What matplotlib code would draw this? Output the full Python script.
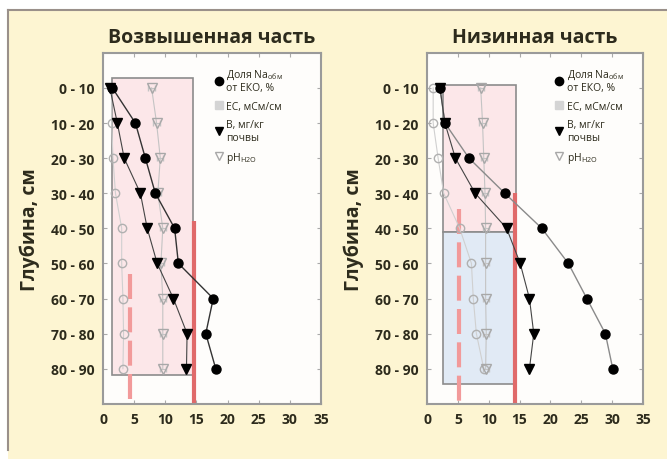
import matplotlib.pyplot as plt
from matplotlib.lines import Line2D
from matplotlib.patches import Rectangle
import numpy as np

plt.rcParams['font.family'] = ['Open Sans', 'DejaVu Sans']
plt.rcParams['mathtext.default'] = 'regular'

depths = ['0 - 10', '10 - 20', '20 - 30', '30 - 40', '40 - 50',
          '50 - 60', '60 - 70', '70 - 80', '80 - 90']

# Возвышенная часть
na_up = [1.5, 5.2, 6.8, 8.4, 11.5, 12.1, 17.7, 16.5, 18.1]
b_up = [1.1, 2.3, 3.4, 6.0, 7.1, 8.7, 11.3, 13.5, 13.4]
ec_up = [1.4, 1.4, 1.6, 2.0, 3.0, 3.0, 3.2, 3.3, 3.2]
ph_up = [7.8, 8.6, 9.2, 8.8, 9.6, 9.3, 9.6, 9.6, 9.6]

# Низинная часть
na_low = [2.1, 2.9, 6.8, 12.6, 18.6, 22.9, 25.9, 28.9, 30.1]
b_low = [2.1, 2.9, 4.6, 7.8, 12.9, 15.1, 16.6, 17.3, 16.6]
ec_low = [1.0, 1.0, 1.8, 2.7, 5.3, 7.2, 7.5, 8.0, 9.2]
ph_low = [8.7, 9.0, 9.2, 9.4, 9.5, 9.5, 9.5, 9.6, 9.5]

txt = '#2d2b1c'
bg = '#fdf5d2'

fig = plt.figure(figsize=(6.67, 4.6), dpi=100, facecolor='white')
fig.patches.append(Rectangle((8 / 667, 0), 1, 1 - 11 / 460, transform=fig.transFigure,
                             facecolor=bg, edgecolor='none', zorder=-10))
fig.add_artist(Line2D([8 / 667, 8 / 667], [0.02, 1 - 11 / 460], color='#9a908a', lw=1.5))
fig.add_artist(Line2D([8 / 667, 1], [1 - 11 / 460, 1 - 11 / 460], color='#9a908a', lw=1.5))

ax1 = fig.add_axes([103 / 667, 0.120, 218 / 667, 0.763])
ax2 = fig.add_axes([427 / 667, 0.120, 216 / 667, 0.763])
y = np.arange(len(depths))


def panel(ax, title, na, b, ec, ph, na_col, legx):
    ax.set_facecolor('#fefdfb')
    ax.plot(ec, y, '-', color='#d0d0d0', lw=0.8, zorder=3)
    ax.plot(ec, y, 'o', mfc='none', mec='#b0b0b0', ms=6, mew=1, zorder=4)
    ax.errorbar(ph, y, xerr=0.5, fmt='-', color='#c4c4c4', lw=0.8, capsize=2, zorder=3)
    ax.plot(ph, y, 'v', mfc='none', mec='#a8a8a8', ms=7, mew=1, zorder=4)
    ax.plot(na, y, '-', color=na_col, lw=1.0, zorder=5)
    ax.plot(na, y, 'o', color='black', ms=6.5, zorder=6)
    ax.plot(b, y, '-', color='#444444', lw=0.8, zorder=5)
    ax.plot(b, y, 'v', color='black', ms=6.5, zorder=6)

    ax.set_xlim(0, 35)
    ax.set_ylim(9, -1)
    ax.set_xticks(range(0, 36, 5))
    ax.set_yticks(y)
    ax.set_yticklabels(depths)
    ax.tick_params(direction='in', top=True, right=True, length=3, color='#aaaaaa',
                   labelsize=10, labelcolor=txt, pad=6)
    for lab in ax.get_xticklabels() + ax.get_yticklabels():
        lab.set_fontweight('bold')
    for s in ax.spines.values():
        s.set_color('#9a9a9a')
        s.set_linewidth(1.5)
    ax.set_title(title, fontsize=14, fontweight='bold', color=txt, pad=8)
    ax.set_ylabel('Глубина, см', fontsize=14, fontweight='bold', color=txt, labelpad=8)

    handles = [
        Line2D([], [], marker='o', color='black', ls='none', ms=6),
        Line2D([], [], marker='s', color='#d4d4d4', ls='none', ms=6),
        Line2D([], [], marker='v', color='black', ls='none', ms=6),
        Line2D([], [], marker='v', mfc='none', mec='#a8a8a8', ls='none', ms=6),
    ]
    labels = ['Доля Na$_{обм}$\nот ЕКО, %', 'EC, мСм/см', 'B, мг/кг\nпочвы', 'pH$_{H2O}$']
    leg = ax.legend(handles, labels, loc='upper left', bbox_to_anchor=(legx, 0.97),
                    frameon=False, fontsize=7.5, handletextpad=0.2, handlelength=1.0,
                    labelspacing=0.7, borderaxespad=0)
    for t in leg.get_texts():
        t.set_color(txt)


panel(ax1, 'Возвышенная часть', na_up, b_up, ec_up, ph_up, '#333333', 0.49)
panel(ax2, 'Низинная часть', na_low, b_low, ec_low, ph_low, '#8a8a8a', 0.57)

# зоны и пороговые линии
ax1.add_patch(Rectangle((1.45, -0.28), 14.4 - 1.45, 8.17 + 0.28, facecolor='#fce7e9',
                        edgecolor='#8c8c8c', lw=1.2, zorder=1))
ax1.vlines(14.6, 3.8, 9, color='#e06a6a', lw=3, zorder=2)
ax1.vlines(4.35, 5.3, 9, color='#f29a9a', lw=3, linestyles=(0, (6, 2)), zorder=2)

ax2.add_patch(Rectangle((2.6, -0.09), 14.5 - 2.6, 4.1 + 0.09, facecolor='#fce7e9',
                        edgecolor='#8c8c8c', lw=1.2, zorder=1))
ax2.add_patch(Rectangle((2.6, 4.1), 14.5 - 2.6, 8.43 - 4.1, facecolor='#e1eaf5',
                        edgecolor='#8c8c8c', lw=1.2, zorder=1))
ax2.vlines(14.2, 3.0, 9, color='#e06a6a', lw=3, zorder=2)
ax2.vlines(5.2, 3.45, 9, color='#f29a9a', lw=3, linestyles=(0, (6, 2)), zorder=2)

fig.savefig('out.png', dpi=100, facecolor=fig.get_facecolor())
